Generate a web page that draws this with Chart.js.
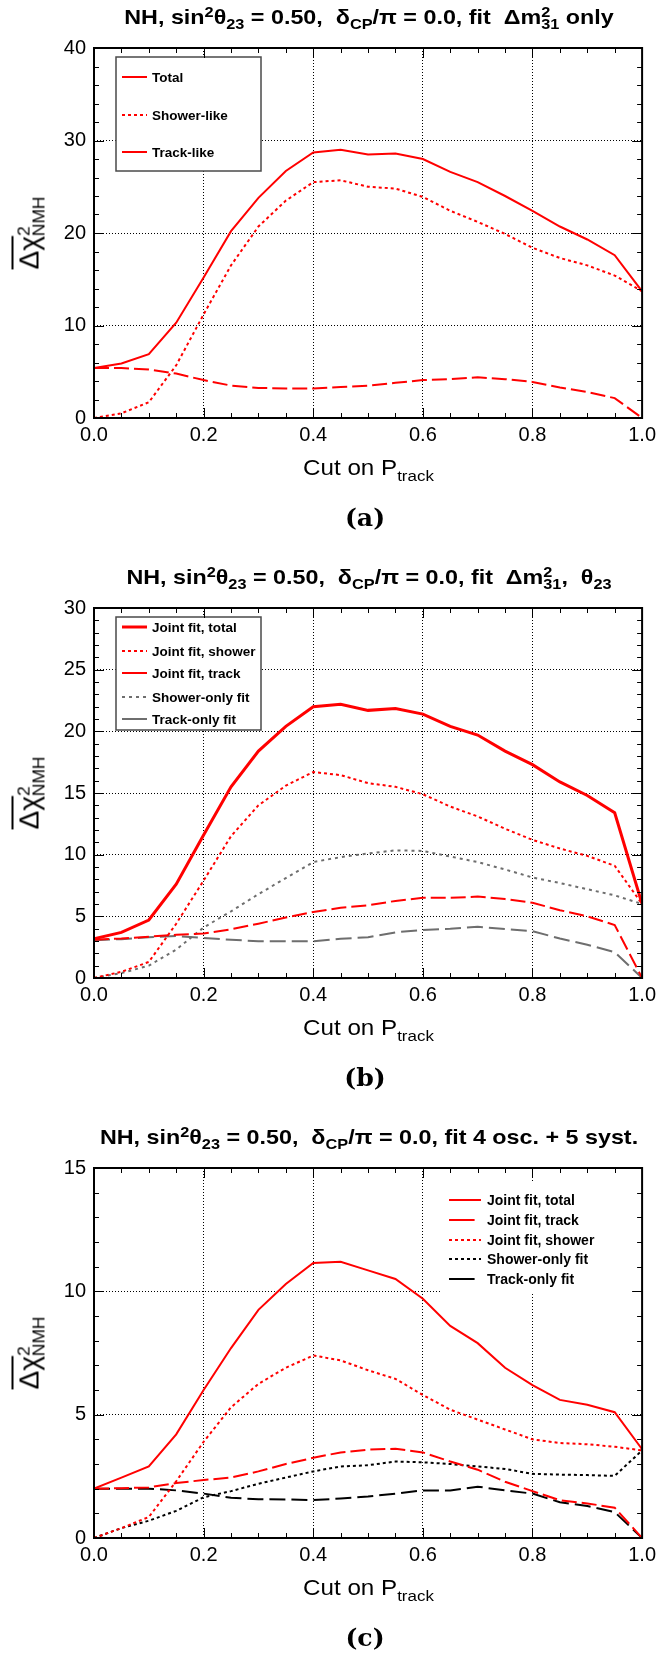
<!DOCTYPE html>
<html>
<head>
<meta charset="utf-8">
<script src="https://cdn.jsdelivr.net/npm/chart.js@4.4.0/dist/chart.umd.min.js"></script>
<style>
  html, body { margin: 0; padding: 0; background: #fff; }
  body { width: 661px; height: 1659px; position: relative; overflow: hidden;
         font-family: "Liberation Sans", Arial, sans-serif; color: #000; }
  .panel { position: absolute; left: 0; width: 661px; height: 560px; }
  .panel canvas { position: absolute; left: 0; top: 0; }
  .title { position: absolute; left: 369px; top: 5px; transform: translateX(-50%) scaleX(1.11);
           font-weight: bold; font-size: 21px; line-height: 24px; white-space: nowrap; }
  .sp { position: relative; top: -0.5em; font-size: 0.7em; }
  .sb { position: relative; top: 0.35em; font-size: 0.7em; }
  .stk { margin-left: -0.56em; }
  .xtitle { position: absolute; left: 303px; top: 455px; transform-origin: 0 50%; transform: scaleX(1.1);
            font-size: 22px; line-height: 26px; white-space: nowrap; }
  .xtitle .sb { font-size: 0.7em; top: 0.4em; }
  .ytitle { position: absolute; left: 31px; top: 233px; transform: translate(-50%, -50%) rotate(-90deg);
            font-size: 28px; line-height: 30px; white-space: nowrap; }
  .ytitle .ov { text-decoration: overline; text-decoration-thickness: 1.5px; }
  .ytitle .sp, .ytitle .sb { font-size: 0.62em; }
  .tag { position: absolute; left: 365px; top: 505px; transform: translateX(-50%) scaleX(1.05);
         font-family: "DejaVu Serif", "Liberation Serif", serif; font-weight: bold; font-size: 24px; line-height: 26px; }
</style>
</head>
<body>

<div class="panel" style="top:0px">
  <canvas id="chartA" width="661" height="460"></canvas>
  <div class="title">NH, sin<span class="sp">2</span>θ<span class="sb">23</span> = 0.50, &nbsp;δ<span class="sb">CP</span>/π = 0.0, fit &nbsp;Δm<span class="sp">2</span><span class="sb stk">31</span> only</div>
  <div class="ytitle"><span class="ov">Δχ</span><span class="sp">2</span><span class="sb stk">NMH</span></div>
  <div class="xtitle">Cut on P<span class="sb">track</span></div>
  <div class="tag">(a)</div>
</div>

<div class="panel" style="top:560px">
  <canvas id="chartB" width="661" height="460"></canvas>
  <div class="title">NH, sin<span class="sp">2</span>θ<span class="sb">23</span> = 0.50, &nbsp;δ<span class="sb">CP</span>/π = 0.0, fit &nbsp;Δm<span class="sp">2</span><span class="sb stk">31</span>, &nbsp;θ<span class="sb">23</span></div>
  <div class="ytitle"><span class="ov">Δχ</span><span class="sp">2</span><span class="sb stk">NMH</span></div>
  <div class="xtitle">Cut on P<span class="sb">track</span></div>
  <div class="tag">(b)</div>
</div>

<div class="panel" style="top:1120px">
  <canvas id="chartC" width="661" height="460"></canvas>
  <div class="title">NH, sin<span class="sp">2</span>θ<span class="sb">23</span> = 0.50, &nbsp;δ<span class="sb">CP</span>/π = 0.0, fit 4 osc. + 5 syst.</div>
  <div class="ytitle"><span class="ov">Δχ</span><span class="sp">2</span><span class="sb stk">NMH</span></div>
  <div class="xtitle">Cut on P<span class="sb">track</span></div>
  <div class="tag">(c)</div>
</div>

<script>
// cut values on P_track (x axis)
const cuts = [0, 0.05, 0.1, 0.15, 0.2, 0.25, 0.3, 0.35, 0.4, 0.45, 0.5,
              0.55, 0.6, 0.65, 0.7, 0.75, 0.8, 0.85, 0.9, 0.95, 1.0]
const xTickLabels = ['0.0', '0.2', '0.4', '0.6', '0.8', '1.0']

// (a) fit dm31 only
const aTotal  = [5.4, 5.9, 6.9, 10.3, 15.2, 20.2, 23.8, 26.7, 28.7, 29.0, 28.5,
                 28.6, 28.0, 26.6, 25.5, 24.0, 22.4, 20.7, 19.3, 17.6, 13.7]
const aShower = [0.0, 0.5, 1.7, 5.7, 11.2, 16.5, 20.7, 23.5, 25.5, 25.7, 25.0,
                 24.8, 23.9, 22.4, 21.2, 19.9, 18.4, 17.3, 16.5, 15.4, 13.7]
const aTrack  = [5.4, 5.4, 5.25, 4.8, 4.1, 3.5, 3.25, 3.2, 3.2, 3.35, 3.5,
                 3.8, 4.1, 4.2, 4.4, 4.2, 3.9, 3.3, 2.8, 2.15, 0.0]
const aLabels = ['Total', 'Shower-like', 'Track-like']

// (b) fit dm31, theta23
const bJointTotal  = [3.18, 3.7, 4.7, 7.6, 11.6, 15.5, 18.4, 20.4, 22.0, 22.2, 21.7,
                      21.85, 21.4, 20.4, 19.7, 18.4, 17.3, 15.9, 14.8, 13.4, 6.0]
const bJointShower = [0.0, 0.5, 1.3, 4.4, 7.9, 11.5, 14.0, 15.6, 16.7, 16.45, 15.8,
                      15.5, 14.9, 13.9, 13.1, 12.1, 11.2, 10.5, 9.9, 9.1, 6.0]
const bJointTrack  = [3.1, 3.2, 3.35, 3.5, 3.6, 3.95, 4.4, 4.9, 5.35, 5.7, 5.9,
                      6.25, 6.5, 6.5, 6.6, 6.4, 6.1, 5.5, 5.0, 4.3, 0.0]
const bShowerOnly  = [0.0, 0.4, 1.0, 2.3, 4.1, 5.4, 6.8, 8.1, 9.4, 9.8, 10.1,
                      10.35, 10.3, 9.85, 9.4, 8.8, 8.15, 7.7, 7.2, 6.7, 6.0]
const bTrackOnly   = [3.06, 3.15, 3.3, 3.4, 3.25, 3.1, 2.98, 2.98, 2.98, 3.18, 3.3,
                      3.7, 3.9, 4.0, 4.15, 3.97, 3.8, 3.2, 2.7, 2.1, 0.0]
const bLabels = ['Joint fit, total', 'Joint fit, shower', 'Joint fit, track', 'Shower-only fit', 'Track-only fit']

// (c) fit 4 osc. + 5 syst.
const cJointTotal  = [2.0, 2.45, 2.9, 4.2, 6.0, 7.7, 9.25, 10.3, 11.15, 11.2, 10.85,
                      10.5, 9.7, 8.6, 7.9, 6.9, 6.2, 5.6, 5.4, 5.1, 3.6]
const cJointTrack  = [2.0, 2.02, 2.05, 2.23, 2.35, 2.45, 2.7, 3.0, 3.25, 3.47, 3.58,
                      3.62, 3.47, 3.1, 2.77, 2.28, 1.9, 1.53, 1.4, 1.23, 0.0]
const cJointShower = [0.0, 0.4, 0.85, 2.3, 3.9, 5.3, 6.25, 6.9, 7.4, 7.2, 6.8,
                      6.45, 5.8, 5.2, 4.8, 4.4, 4.0, 3.85, 3.8, 3.7, 3.55]
const cShowerOnly  = [0.0, 0.4, 0.7, 1.1, 1.65, 1.9, 2.2, 2.45, 2.7, 2.9, 2.95,
                      3.1, 3.07, 3.0, 2.9, 2.8, 2.6, 2.57, 2.55, 2.52, 3.55]
const cTrackOnly   = [2.0, 2.0, 2.0, 1.93, 1.8, 1.63, 1.57, 1.56, 1.54, 1.6, 1.68,
                      1.8, 1.93, 1.93, 2.08, 1.93, 1.8, 1.45, 1.3, 1.05, 0.0]
const cLabels = ['Joint fit, total', 'Joint fit, track', 'Joint fit, shower', 'Shower-only fit', 'Track-only fit']

const RED = '#ff0000'
const GRAY = '#6e6e6e'
const DOTS = [3, 3]
const LONG = [15, 5]

const pts = vals => cuts.map((x, i) => ({ x, y: vals[i] }))

function series(label, vals, color, width, dash) {
  return { label, data: pts(vals), borderColor: color, borderWidth: width,
           borderDash: dash, pointRadius: 0, tension: 0, fill: false }
}

// ROOT-like frame, inner ticks on all four sides, and the in-plot legend
const rootFrame = {
  id: 'rootFrame',
  afterDatasetsDraw(chart, args, opts) {
    const { ctx, chartArea: a, scales: { x, y } } = chart
    ctx.save()

    const lg = opts.legend
    if (lg.box) {
      ctx.fillStyle = '#fff'
      ctx.fillRect(lg.box[0], lg.box[1], lg.box[2] - lg.box[0], lg.box[3] - lg.box[1])
      if (lg.border) {
        ctx.strokeStyle = '#4a4a4a'
        ctx.lineWidth = 1.5
        ctx.strokeRect(lg.box[0], lg.box[1], lg.box[2] - lg.box[0], lg.box[3] - lg.box[1])
      }
    }
    ctx.font = lg.font
    ctx.textBaseline = 'middle'
    ctx.textAlign = 'left'
    chart.data.datasets.forEach((ds, i) => {
      const yy = lg.rows[i]
      const dotted = ds.borderDash.length && ds.borderDash[0] < 6
      const longDash = ds.borderDash.length && !dotted
      ctx.strokeStyle = ds.borderColor
      ctx.lineWidth = ds.borderWidth
      ctx.setLineDash(dotted ? ds.borderDash : [])
      ctx.beginPath()
      ctx.moveTo(lg.x1, yy)
      ctx.lineTo(longDash ? lg.x1 + (lg.x2 - lg.x1) * lg.dashFrac : lg.x2, yy)
      ctx.stroke()
      ctx.setLineDash([])
      ctx.fillStyle = '#000'
      ctx.fillText(ds.label, lg.tx, yy + 1)
    })

    ctx.strokeStyle = '#000'
    ctx.lineWidth = 1
    ctx.beginPath()
    for (let i = 1; i < 20; i++) {
      const px = Math.round(x.getPixelForValue(i * 0.05)) + 0.5
      const len = i % 4 === 0 ? 10 : 5
      ctx.moveTo(px, a.bottom); ctx.lineTo(px, a.bottom - len)
      ctx.moveTo(px, a.top); ctx.lineTo(px, a.top + len)
    }
    const n = Math.round(opts.yMax / opts.yMinor)
    for (let j = 1; j < n; j++) {
      const v = j * opts.yMinor
      const py = Math.round(y.getPixelForValue(v)) + 0.5
      const len = v % opts.yStep === 0 ? 10 : 5
      ctx.moveTo(a.left, py); ctx.lineTo(a.left + len, py)
      ctx.moveTo(a.right, py); ctx.lineTo(a.right - len, py)
    }
    ctx.stroke()

    ctx.lineWidth = 2
    ctx.strokeRect(a.left, a.top, a.right - a.left, a.bottom - a.top)
    ctx.restore()
  }
}

function makeChart(id, datasets, yMax, yStep, yMinor, legend) {
  return new Chart(document.getElementById(id), {
    type: 'line',
    data: { datasets },
    plugins: [rootFrame],
    options: {
      responsive: false,
      animation: false,
      devicePixelRatio: 1,
      layout: { padding: { top: 48, right: 16, left: 0, bottom: 0 } },
      plugins: {
        legend: { display: false },
        tooltip: { enabled: false },
        rootFrame: { yMax, yStep, yMinor, legend }
      },
      scales: {
        x: {
          type: 'linear', min: 0, max: 1,
          afterFit: s => { s.height = 42 },
          grid: { color: '#000', lineWidth: 1, drawTicks: false },
          border: { display: false, dash: [1, 2] },
          ticks: {
            stepSize: 0.2, maxRotation: 0, padding: 5, color: '#000',
            font: { family: 'Liberation Sans', size: 20 },
            callback: (v) => xTickLabels[Math.round(v / 0.2)]
          }
        },
        y: {
          min: 0, max: yMax,
          afterFit: s => { s.width = 94 },
          grid: { color: '#000', lineWidth: 1, drawTicks: false },
          border: { display: false, dash: [1, 2] },
          ticks: {
            stepSize: yStep, padding: 8, color: '#000',
            font: { family: 'Liberation Sans', size: 20 },
            callback: (v) => String(v)
          }
        }
      }
    }
  })
}

makeChart('chartA', [
  series(aLabels[0], aTotal, RED, 2, []),
  series(aLabels[1], aShower, RED, 2, DOTS),
  series(aLabels[2], aTrack, RED, 2, LONG)
], 40, 10, 2, {
  box: [116, 57, 261, 171], border: true, rows: [77, 115, 152],
  x1: 122, x2: 147, tx: 152, dashFrac: 1, font: 'bold 13.5px "Liberation Sans"'
})

makeChart('chartB', [
  series(bLabels[0], bJointTotal, RED, 3, []),
  series(bLabels[1], bJointShower, RED, 2, DOTS),
  series(bLabels[2], bJointTrack, RED, 2, LONG),
  series(bLabels[3], bShowerOnly, GRAY, 2, [3, 4]),
  series(bLabels[4], bTrackOnly, GRAY, 2, [16, 6])
], 30, 5, 1, {
  box: [116, 57, 261, 170], border: true, rows: [67, 91, 113, 137, 159],
  x1: 122, x2: 147, tx: 152, dashFrac: 1, font: 'bold 13.5px "Liberation Sans"'
})

makeChart('chartC', [
  series(cLabels[0], cJointTotal, RED, 2, []),
  series(cLabels[1], cJointTrack, RED, 2, LONG),
  series(cLabels[2], cJointShower, RED, 2, DOTS),
  series(cLabels[3], cShowerOnly, '#000', 2, DOTS),
  series(cLabels[4], cTrackOnly, '#000', 2, [16, 6])
], 15, 5, 1, {
  box: [442, 62, 640, 172], border: false, rows: [80, 100, 120, 139, 159],
  x1: 449, x2: 481, tx: 487, dashFrac: 0.8, font: 'bold 14px "Liberation Sans"'
})
</script>
</body>
</html>
